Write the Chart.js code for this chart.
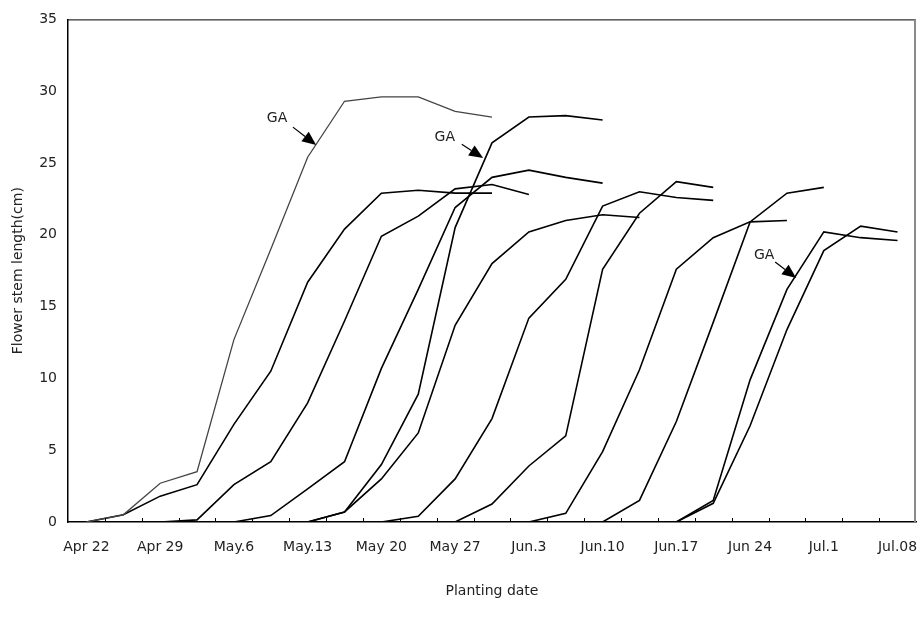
<!DOCTYPE html>
<html>
<head>
<meta charset="utf-8">
<script src="https://cdn.jsdelivr.net/npm/chart.js@4.4.1/dist/chart.umd.min.js"></script>
<style>
	body { margin: 0; background: #fff; }
	#wrap { width: 923px; height: 628px; }
</style>
</head>
<body>
<div id="wrap"><canvas id="stemChart"></canvas></div>
<script>
var _ = null;

// measurement dates (twice a week), only every second one is labelled
var labels = ["Apr 22", "", "Apr 29", "", "May.6", "", "May.13", "", "May 20", "", "May 27", "",
	"Jun.3", "", "Jun.10", "", "Jun.17", "", "Jun 24", "", "Jul.1", "", "Jul.08"];

var yTicks = [0, 5, 10, 15, 20, 25, 30, 35];

// flower stem length (cm), one array per planting
var s1 = [0, 0.5, 2.7, 3.5, 12.7, 19.0, 25.4, 29.3, 29.6, 29.6, 28.6, 28.2, _, _, _, _, _, _, _, _, _, _, _];
var s2 = [0, 0.5, 1.8, 2.6, 6.8, 10.5, 16.7, 20.4, 22.9, 23.1, 22.9, 22.9, _, _, _, _, _, _, _, _, _, _, _];
var s3 = [_, _, 0, 0.15, 2.6, 4.2, 8.3, 14.0, 19.9, 21.3, 23.2, 23.5, 22.8, _, _, _, _, _, _, _, _, _, _];
var s4 = [_, _, _, _, 0, 0.45, 2.3, 4.2, 10.7, 16.2, 21.9, 24.0, 24.5, 24.0, 23.6, _, _, _, _, _, _, _, _];
var s5 = [_, _, _, _, _, _, 0, 0.7, 4.0, 8.9, 20.5, 26.4, 28.2, 28.3, 28.0, _, _, _, _, _, _, _, _];
var s6 = [_, _, _, _, _, _, 0, 0.7, 3.0, 6.2, 13.7, 18.0, 20.2, 21.0, 21.4, 21.2, _, _, _, _, _, _, _];
var s7 = [_, _, _, _, _, _, _, _, 0, 0.4, 3.0, 7.2, 14.2, 16.9, 22.0, 23.0, 22.6, 22.4, _, _, _, _, _];
var s8 = [_, _, _, _, _, _, _, _, _, _, 0, 1.25, 3.9, 6.0, 17.6, 21.5, 23.7, 23.3, _, _, _, _, _];
var s9 = [_, _, _, _, _, _, _, _, _, _, _, _, 0, 0.6, 4.9, 10.6, 17.6, 19.8, 20.9, 21.0, _, _, _];
var s10 = [_, _, _, _, _, _, _, _, _, _, _, _, _, _, 0, 1.5, 7.0, 13.9, 20.9, 22.9, 23.3, _, _];
var s11 = [_, _, _, _, _, _, _, _, _, _, _, _, _, _, _, _, 0, 1.5, 9.9, 16.2, 20.2, 19.8, 19.6];
var s12 = [_, _, _, _, _, _, _, _, _, _, _, _, _, _, _, _, 0, 1.3, 6.7, 13.4, 18.9, 20.6, 20.2];

var allSeries = [s1, s2, s3, s4, s5, s6, s7, s8, s9, s10, s11, s12];

var FONT = "'DejaVu Sans', 'Liberation Sans', sans-serif";
var INK = "#222";

var datasets = allSeries.map(function (vals, i) {
	return {
		label: "planting " + (i + 1),
		data: vals,
		borderColor: i == 0 ? "#444" : "#000",
		borderWidth: i == 0 ? 1.3 : 1.6,
		pointRadius: 0,
		tension: 0,
		spanGaps: false,
		fill: false
	};
});

// "GA" notes: text spot and arrow (category index, cm)
var gaNotes = [
	{ tx: 5.17, ty: 28.1, ax: 5.60, ay: 27.5, bx: 6.23, by: 26.25 },
	{ tx: 9.72, ty: 26.8, ax: 10.18, ay: 26.3, bx: 10.76, by: 25.35 },
	{ tx: 18.38, ty: 18.6, ax: 18.68, ay: 18.1, bx: 19.25, by: 17.0 }
];

var framePlugin = {
	id: "framePlugin",
	afterDatasetsDraw: function (chart) {
		var ctx = chart.ctx;
		var a = chart.chartArea;
		var x = chart.scales.x;
		var y = chart.scales.y;
		ctx.save();

		// top and right edges of the box
		ctx.strokeStyle = "#000";
		ctx.lineWidth = 1;
		ctx.beginPath();
		ctx.moveTo(a.left, a.top + 0.5);
		ctx.lineTo(a.right, a.top + 0.5);
		ctx.stroke();
		ctx.strokeStyle = "#8a8a8a";
		ctx.lineWidth = 2;
		ctx.beginPath();
		ctx.moveTo(a.right - 1, a.top);
		ctx.lineTo(a.right - 1, a.bottom);
		ctx.stroke();

		// small inside ticks between categories
		ctx.strokeStyle = "#000";
		ctx.lineWidth = 1;
		ctx.beginPath();
		for (var i = 1; i < labels.length; i++) {
			var px = Math.round((x.getPixelForValue(i - 1) + x.getPixelForValue(i)) / 2) + 0.5;
			ctx.moveTo(px, a.bottom);
			ctx.lineTo(px, a.bottom - 4);
		}
		ctx.stroke();

		// GA arrows
		ctx.font = "14px " + FONT;
		ctx.textAlign = "center";
		ctx.textBaseline = "middle";
		gaNotes.forEach(function (n) {
			ctx.fillStyle = INK;
			ctx.fillText("GA", x.getPixelForValue(n.tx), y.getPixelForValue(n.ty));
			var x0 = x.getPixelForValue(n.ax), y0 = y.getPixelForValue(n.ay);
			var x1 = x.getPixelForValue(n.bx), y1 = y.getPixelForValue(n.by);
			var ang = Math.atan2(y1 - y0, x1 - x0);
			var head = 14, half = 6;
			var hx = x1 - head * Math.cos(ang), hy = y1 - head * Math.sin(ang);
			ctx.strokeStyle = "#000";
			ctx.lineWidth = 1.2;
			ctx.beginPath();
			ctx.moveTo(x0, y0);
			ctx.lineTo(hx, hy);
			ctx.stroke();
			ctx.fillStyle = "#000";
			ctx.beginPath();
			ctx.moveTo(x1, y1);
			ctx.lineTo(hx + half * Math.sin(ang), hy - half * Math.cos(ang));
			ctx.lineTo(hx - half * Math.sin(ang), hy + half * Math.cos(ang));
			ctx.closePath();
			ctx.fill();
		});
		ctx.restore();
	}
};

var chart = new Chart(document.getElementById("stemChart"), {
	type: "line",
	data: { labels: labels, datasets: datasets },
	options: {
		responsive: true,
		maintainAspectRatio: false,
		animation: false,
		layout: { padding: { top: 18, right: 7, left: 0, bottom: 0 } },
		plugins: {
			legend: { display: false },
			tooltip: { enabled: false }
		},
		scales: {
			x: {
				type: "category",
				offset: true,
				grid: { display: false, drawTicks: false },
				border: { display: true, color: "#000", width: 1.5 },
				ticks: {
					autoSkip: false,
					maxRotation: 0,
					padding: 17,
					color: INK,
					font: { family: FONT, size: 14 }
				},
				title: {
					display: true,
					text: "Planting date",
					color: INK,
					font: { family: FONT, size: 14 },
					padding: { top: 0, bottom: 28 }
				},
				afterFit: function (scale) {
					scale.height = 106;
					scale.paddingLeft = 0;
					scale.paddingRight = 0;
				}
			},
			y: {
				min: 0,
				max: 35,
				grid: { display: false, drawTicks: false },
				border: { display: true, color: "#000", width: 1.5 },
				afterBuildTicks: function (scale) {
					scale.ticks = yTicks.map(function (v) { return { value: v }; });
				},
				ticks: {
					padding: 11,
					color: INK,
					font: { family: FONT, size: 14 }
				},
				title: {
					display: true,
					text: "Flower stem length(cm)",
					color: INK,
					font: { family: FONT, size: 14 },
					padding: { top: 10, bottom: 0 }
				},
				afterFit: function (scale) { scale.width = 68; }
			}
		}
	},
	plugins: [framePlugin]
});
</script>
</body>
</html>
